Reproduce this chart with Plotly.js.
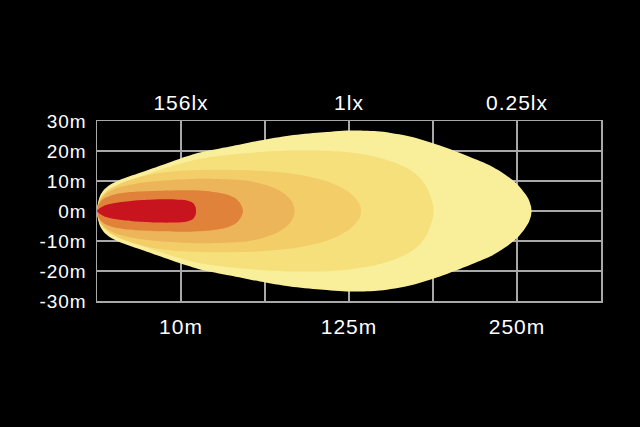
<!DOCTYPE html>
<html>
<head>
<meta charset="utf-8">
<script src="https://cdn.plot.ly/plotly-3.0.1.min.js"></script>
<style>
html,body{margin:0;padding:0;background:#000;}
#chart{width:640px;height:427px;}
.xtick text,.x2tick text,.ytick text{letter-spacing:1px;}
</style>
</head>
<body>
<div id="chart"></div>
<script>
// Axis ticks (x in grid units, y in metres)
const xTickVals = [0, 1, 2, 3, 4, 5, 6];
const xTickText = ['', '10m', '', '125m', '', '250m', ''];
const topTickText = ['', '156lx', '', '1lx', '', '0.25lx', ''];
const yTickVals = [30, 20, 10, 0, -10, -20, -30];
const yTickText = ['30m', '20m', '10m', '0m', '-10m', '-20m', '-30m'];

// Upper half outlines of each illuminance zone (outer to inner); lower half is mirrored
const zone1X = [0, 0.012, 0.036, 0.083, 0.155, 0.274, 0.512, 0.750, 0.988, 1.226, 1.583, 1.940, 2.298, 2.655, 3.012, 3.369, 3.726, 4.083, 4.440, 4.679, 4.857, 5.0, 5.095, 5.143, 5.167, 5.173];
const zone1Y = [0, 2.68, 5.03, 7.05, 8.72, 10.40, 12.75, 15.10, 17.45, 19.46, 21.48, 23.49, 25.17, 26.17, 26.85, 26.51, 24.83, 21.81, 18.0, 15.2, 12.2, 9.0, 5.8, 3.6, 1.5, 0];

const zone2X = [0, 0.012, 0.036, 0.083, 0.155, 0.274, 0.512, 0.750, 0.988, 1.226, 1.583, 1.940, 2.298, 2.655, 3.012, 3.310, 3.548, 3.726, 3.845, 3.929, 3.976, 4.0, 4.006];
const zone2Y = [0, 2.01, 4.03, 5.70, 7.38, 9.06, 11.41, 13.76, 15.77, 17.45, 18.79, 19.63, 20.13, 20.13, 19.46, 18.12, 16.11, 13.76, 11.07, 7.72, 4.36, 2.01, 0];

const zone3X = [0, 0.012, 0.036, 0.095, 0.179, 0.333, 0.571, 0.810, 1.107, 1.464, 1.821, 2.179, 2.476, 2.714, 2.893, 3.012, 3.083, 3.131, 3.143];
const zone3Y = [0, 2.35, 4.03, 6.04, 7.72, 9.73, 11.74, 12.92, 13.59, 13.76, 13.59, 12.92, 11.74, 10.07, 8.05, 6.04, 4.03, 2.01, 0];

const zone4X = [0, 0.012, 0.048, 0.107, 0.214, 0.393, 0.631, 0.929, 1.226, 1.524, 1.798, 2.000, 2.155, 2.262, 2.321, 2.345, 2.351];
const zone4Y = [0, 2.01, 4.03, 5.70, 7.38, 8.72, 9.73, 10.40, 10.74, 10.57, 10.07, 8.72, 7.05, 5.03, 3.02, 1.34, 0];

const zone5X = [0, 0.012, 0.048, 0.119, 0.238, 0.452, 0.750, 1.107, 1.345, 1.524, 1.643, 1.702, 1.726, 1.738];
const zone5Y = [0, 1.68, 3.36, 4.70, 5.70, 6.38, 6.71, 6.88, 6.54, 5.70, 4.36, 2.68, 1.34, 0];

const zone6X = [0, 0.036, 0.107, 0.250, 0.452, 0.690, 0.929, 1.071, 1.143, 1.173, 1.179];
const zone6Y = [0, 1.01, 2.01, 2.85, 3.52, 3.86, 3.86, 3.52, 2.68, 1.34, 0];

const zoneColors = ['#F9EE9A', '#F6E07C', '#F2CD68', '#ECB55A', '#E0823A', '#C8141F'];

const zones = [[zone1X, zone1Y], [zone2X, zone2Y], [zone3X, zone3Y], [zone4X, zone4Y], [zone5X, zone5Y], [zone6X, zone6Y]];

function outline(xs, ys) {
  const px = xs.slice(), py = ys.slice();
  for (let i = xs.length - 2; i >= 1; i--) { px.push(xs[i]); py.push(-ys[i]); }
  px.push(xs[0]); py.push(ys[0]);
  return [px, py];
}

const traces = zones.map((z, i) => {
  const [px, py] = outline(z[0], z[1]);
  return {
    type: 'scatter', mode: 'lines', x: px, y: py,
    fill: 'toself', fillcolor: zoneColors[i],
    line: {width: 0, shape: 'spline', smoothing: 0.8, simplify: false, color: zoneColors[i]},
    hoverinfo: 'skip', showlegend: false
  };
});
// invisible trace to carry the top axis
traces.push({type: 'scatter', mode: 'markers', x: [0, 6], y: [0, 0], xaxis: 'x2', marker: {opacity: 0}, hoverinfo: 'skip', showlegend: false});

const fontFam = '"Liberation Sans", Arial, Helvetica, sans-serif';
const layout = {
  width: 640, height: 427,
  paper_bgcolor: '#000', plot_bgcolor: '#000',
  margin: {l: 97, r: 39, t: 121, b: 126},
  showlegend: false,
  xaxis: {
    range: [0, 6], tickvals: xTickVals, ticktext: xTickText,
    showgrid: true, gridcolor: '#A8A8A8', gridwidth: 1.5,
    showline: true, linecolor: '#A8A8A8', linewidth: 1.5, mirror: true,
    zeroline: false, ticks: '', ticklabelstandoff: 6,
    tickfont: {family: fontFam, size: 21, color: '#fff'}, fixedrange: true
  },
  xaxis2: {
    range: [0, 6], overlaying: 'x', side: 'top', tickvals: xTickVals, ticktext: topTickText,
    showgrid: false, zeroline: false, showline: false, ticks: '', ticklabelstandoff: 6,
    tickfont: {family: fontFam, size: 21, color: '#fff'}, fixedrange: true
  },
  yaxis: {
    range: [-30, 30], tickvals: yTickVals, ticktext: yTickText,
    showgrid: true, gridcolor: '#A8A8A8', gridwidth: 1.5,
    showline: true, linecolor: '#A8A8A8', linewidth: 1.5, mirror: true,
    zeroline: false, ticks: '', ticklabelstandoff: 5,
    tickfont: {family: fontFam, size: 19, color: '#fff'}, fixedrange: true
  }
};

Plotly.newPlot('chart', traces, layout, {displayModeBar: false, staticPlot: true});
</script>
</body>
</html>
